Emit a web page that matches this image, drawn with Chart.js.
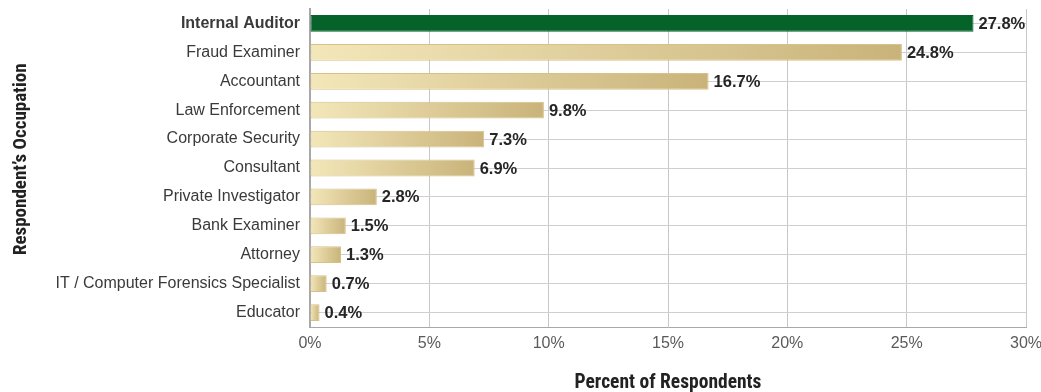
<!DOCTYPE html>
<html>
<head>
<meta charset="utf-8">
<script src="https://cdn.jsdelivr.net/npm/chart.js@4.4.0/dist/chart.umd.min.js"></script>
<style>
  html, body { margin: 0; padding: 0; background: #fff; }
  #wrap { width: 1041px; height: 392px; }
</style>
</head>
<body>
<div id="wrap"><canvas id="occupation-chart" width="1041" height="392"></canvas></div>
<script>
// Datos del gráfico
const occupations = [
  'Internal Auditor', 'Fraud Examiner', 'Accountant', 'Law Enforcement',
  'Corporate Security', 'Consultant', 'Private Investigator', 'Bank Examiner',
  'Attorney', 'IT / Computer Forensics Specialist', 'Educator'
];
const percentages = [27.8, 24.8, 16.7, 9.8, 7.3, 6.9, 2.8, 1.5, 1.3, 0.7, 0.4];
const highlightIndex = 0;
const xTicks = [0, 5, 10, 15, 20, 25, 30];

const condensed = '"Liberation Sans Narrow", "Roboto Condensed", "Liberation Sans", sans-serif';
const sans = '"Liberation Sans", Arial, sans-serif';

// Degradado horizontal para cada barra beige
function barFill(context) {
  const chart = context.chart;
  if (context.dataIndex === highlightIndex) return '#056228';
  const area = chart.chartArea;
  const xScale = chart.scales.x;
  if (!area || !xScale) return '#dcc890';
  const x0 = xScale.getPixelForValue(0);
  const x1 = xScale.getPixelForValue(percentages[context.dataIndex]);
  if (!isFinite(x0) || !isFinite(x1) || x1 <= x0) return '#dcc890';
  const g = chart.ctx.createLinearGradient(x0, 0, x1, 0);
  g.addColorStop(0, '#f3e7b9');
  g.addColorStop(1, '#c9b37a');
  return g;
}

// Etiquetas de valor al final de cada barra
const valueLabels = {
  id: 'valueLabels',
  afterDatasetsDraw(chart) {
    const ctx = chart.ctx;
    const meta = chart.getDatasetMeta(0);
    ctx.save();
    ctx.font = 'bold 16.5px ' + sans;
    ctx.fillStyle = '#262626';
    ctx.textBaseline = 'middle';
    ctx.textAlign = 'left';
    meta.data.forEach((bar, i) => {
      ctx.fillText(percentages[i].toFixed(1) + '%', bar.x + 5, bar.y + 1);
    });
    ctx.restore();
  }
};

new Chart(document.getElementById('occupation-chart'), {
  type: 'bar',
  data: {
    labels: occupations,
    datasets: [{
      data: percentages,
      backgroundColor: barFill,
      borderColor: (c) => c.dataIndex === highlightIndex ? '#056228' : '#d6c286',
      borderWidth: 1,
      borderSkipped: false,
      categoryPercentage: 0.58,
      barPercentage: 1
    }]
  },
  options: {
    indexAxis: 'y',
    responsive: false,
    animation: false,
    layout: { padding: { top: 9, right: 15, bottom: 0, left: 0 } },
    plugins: {
      legend: { display: false },
      tooltip: { enabled: false }
    },
    scales: {
      x: {
        min: 0,
        max: 30,
        afterBuildTicks: (scale) => { scale.ticks = xTicks.map(v => ({ value: v })); },
        afterFit: (scale) => {
          scale.height = 65;
          scale.paddingLeft = 0;
          scale.paddingRight = 0;
        },
        grid: { color: '#c8c8c8', lineWidth: 1, drawTicks: false },
        border: { color: '#a8a8a8', width: 1 },
        ticks: {
          color: '#5a5a5a',
          font: { family: sans, size: 16 },
          padding: 7,
          callback: (v) => v + '%'
        },
        title: {
          display: true,
          text: 'Percent of Respondents',
          color: '#222',
          font: { family: condensed, size: 19.5, weight: 'bold', lineHeight: 0.95 },
          padding: { top: 0, bottom: 0 }
        }
      },
      y: {
        afterFit: (scale) => {
          scale.width = 310;
          scale.paddingTop = 0;
          scale.paddingBottom = 0;
        },
        grid: { color: '#cfcfcf', lineWidth: 1, drawTicks: false, offset: false },
        border: { color: '#a8a8a8', width: 2 },
        ticks: {
          color: '#3a3a3a',
          padding: 10,
          font: (c) => ({ family: sans, size: 16, weight: c.index === highlightIndex ? 'bold' : 'normal' })
        },
        title: {
          display: true,
          // espacios iniciales para subir un poco el título, como en el original
          text: '    Respondent\u2019s Occupation',
          color: '#222',
          font: { family: condensed, size: 19, weight: 'bold' },
          padding: { top: 10, bottom: 0 }
        }
      }
    }
  },
  plugins: [valueLabels]
});
</script>
</body>
</html>
